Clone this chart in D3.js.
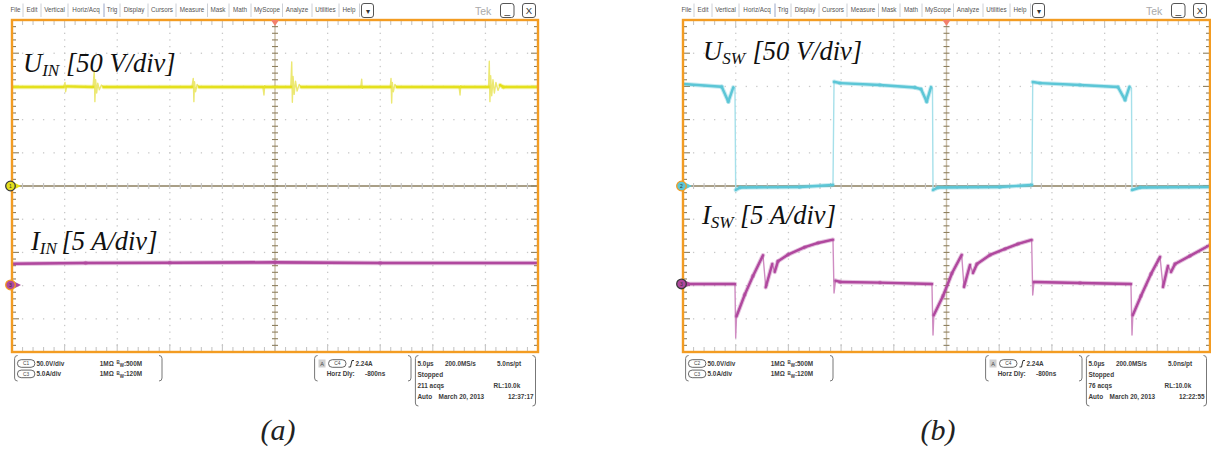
<!DOCTYPE html>
<html><head><meta charset="utf-8">
<script src="https://cdn.jsdelivr.net/npm/d3@7"></script>
<style>
body{margin:0;background:#fff;}
svg{display:block;}
</style></head><body>
<svg id="c" width="1211" height="450"></svg>
<script>
// ---------- data (time in µs, voltage in V, current in A) ----------
const timeDomain = [-25, 25];            // 5 µs/div, 10 div
const voltDomain = [-250, 250];          // 50 V/div, 10 div, ground at centre
const majorT = [-25,-20,-15,-10,-5,0,5,10,15,20,25];
const majorV = [-250,-200,-150,-100,-50,0,50,100,150,200,250];
const ch3OffsetDiv = [-2.98, -2.95];     // current ground marker position (div) for (a), (b)

const uIn = [[-25,149],[-20.1,149],[-19.96,156],[-19.9,142],[-19.8,150],[-17.3,149],[-17.18,174],[-17.12,127],[-17.05,160],[-16.95,140],[-16.85,155],[-16.7,145],[-16.5,152],[-16.3,149],
 [-7.9,149],[-7.77,162],[-7.71,127],[-7.65,157],[-7.55,142],[-7.4,153],[-7.2,149],[-1.15,149],[-1.05,137],[-0.98,151],[-0.9,149],
 [1.5,149],[1.59,187],[1.65,126],[1.72,165],[1.82,138],[1.95,158],[2.1,143],[2.3,153],[2.5,149],[8.15,149],[8.24,161],[8.3,147],[8.4,149],
 [10.95,149],[11.03,162],[11.09,125],[11.15,156],[11.25,142],[11.4,153],[11.6,149],[17.5,149],[17.59,137],[17.66,151],[17.75,149],
 [20.3,149],[20.37,188],[20.43,127],[20.5,166],[20.6,136],[20.72,160],[20.85,140],[21.0,156],[21.2,144],[21.4,152],[21.7,149],[25,149]];
const iIn = [[-25,3.2],[-18,3.3],[-10,3.35],[0,3.4],[10,3.3],[25,3.3]];

const uSw = [[-25,153.6],[-21.33,149.5],[-20.7,127],[-20.23,148.6],[-20.07,147.6],[-20.0,-6],[-19.59,-2.3],[-13.9,-1.5],[-10.77,1.5],
 [-10.67,157],[-10.1,155],[-6.31,152],[-2.99,148.3],[-2.42,146],[-1.88,127],[-1.47,149],[-1.33,147.6],[-1.28,-6],[-0.81,-2.3],[5.07,-1.5],[8.11,1.5],
 [8.18,156.6],[8.87,155],[12.67,152],[16.27,149],[16.94,129.5],[17.36,149.5],[17.55,147.6],[17.6,-6],[18.36,-2.3],[25,-1.5]];
const iSw = [[-25,0],[-20.07,0],[-20.0,-8.1],[-19.92,-4.86],[-19.14,-1.61],[-18.36,1.2],[-17.41,4.32],[-17.15,-0.5],[-16.53,3.01],[-16.3,1.81],[-15.99,3.42],
 [-15.04,4.41],[-13.45,5.53],[-12.19,6.17],[-10.77,6.67],[-10.67,-1.36],[-10.53,0.5],[-10.1,0.3],[-6.31,0.2],[-1.38,0],
 [-1.28,-7.68],[-1.2,-4.67],[-0.33,-1.81],[0.52,1.61],[1.44,4.37],[1.66,-0.45],[2.23,2.86],[2.51,1.66],[2.89,3.01],[4.13,4.37],[5.55,5.27],[6.78,6.02],[8.08,6.63],
 [8.18,-1.66],[8.3,0.3],[12.67,0.15],[17.5,0],
 [17.6,-7.68],[17.68,-4.67],[18.45,-1.81],[19.4,1.51],[20.26,4.07],[20.54,-0.45],[21.01,2.71],[21.3,1.81],[21.68,3.01],[23.1,4.22],[25,5.87]];

const menuItems = ["File","Edit","Vertical","Horiz/Acq","Trig","Display","Cursors","Measure","Mask","Math","MyScope","Analyze","Utilities","Help"];
const chanRowsA = [["C1","50.0V/div","500M"],["C3","5.0A/div","120M"]];
const chanRowsB = [["C2","50.0V/div","500M"],["C3","5.0A/div","120M"]];
const acqsText = ["211 acqs","76 acqs"];
const clockText = ["12:37:17","12:22:55"];
const captions = ["(a)","(b)"];

// ---------- drawing ----------
const svg = d3.select("#c");
const SANS = "'Liberation Sans', Arial, sans-serif";
const SERIF = "'Liberation Serif','Times New Roman',serif";
const BROWN = "#8d7f5f", LGRAY = "#c6c6c6";

function drawPanel(idx, x0, x1, y0, y1, traces, labels, chanRows, capX) {
  const g = svg.append("g");
  const x = d3.scaleLinear().domain(timeDomain).range([x0, x1]);
  const yv = d3.scaleLinear().domain(voltDomain).range([y1, y0]);
  const cOff = -ch3OffsetDiv[idx] * 5;
  const yi = d3.scaleLinear().domain([cOff - 25, cOff + 25]).range([y1, y0]);
  const minorT = d3.range(-25, 25.001, 1), minorV = d3.range(-250, 250.001, 10);
  const xc = x(0), yc = yv(0);

  // dotted grid
  const dots = [];
  majorT.filter(t => t !== 0 && Math.abs(t) !== 25).forEach(t => minorV.forEach(v => dots.push([x(t), yv(v)])));
  majorV.filter(v => v !== 0 && Math.abs(v) !== 250).forEach(v => minorT.forEach(t => dots.push([x(t), yv(v)])));
  g.selectAll(null).data(dots).join("rect").attr("x", d => d[0] - 0.6).attr("y", d => d[1] - 0.6)
    .attr("width", 1.3).attr("height", 1.3).attr("fill", "#c8c8c8");
  // centre lines
  g.append("line").attr("x1", x0).attr("x2", x1).attr("y1", yc).attr("y2", yc).attr("stroke", BROWN).attr("stroke-width", 1.4);
  g.append("line").attr("x1", xc).attr("x2", xc).attr("y1", y0).attr("y2", y1).attr("stroke", "#cbbfa8").attr("stroke-width", 1.4);
  // ticks
  minorT.forEach(t => {
    const maj = t % 5 === 0;
    g.append("line").attr("x1", x(t)).attr("x2", x(t)).attr("y1", yc - 3).attr("y2", yc + 3).attr("stroke", LGRAY).attr("stroke-width", 1.1);
    g.append("line").attr("x1", x(t)).attr("x2", x(t)).attr("y1", y0).attr("y2", y0 + (maj ? 8 : 5)).attr("stroke", LGRAY).attr("stroke-width", 1.1);
    g.append("line").attr("x1", x(t)).attr("x2", x(t)).attr("y1", y1).attr("y2", y1 - (maj ? 8 : 5)).attr("stroke", LGRAY).attr("stroke-width", 1.1);
  });
  minorV.forEach(v => {
    const maj = v % 50 === 0;
    g.append("line").attr("x1", xc - 3).attr("x2", xc + 3).attr("y1", yv(v)).attr("y2", yv(v)).attr("stroke", BROWN).attr("stroke-width", 1.1);
    g.append("line").attr("x1", x0).attr("x2", x0 + (maj ? 7 : 4)).attr("y1", yv(v)).attr("y2", yv(v)).attr("stroke", BROWN).attr("stroke-width", 1.1);
    g.append("line").attr("x1", x1).attr("x2", x1 - (maj ? 7 : 4)).attr("y1", yv(v)).attr("y2", yv(v)).attr("stroke", BROWN).attr("stroke-width", 1.1);
  });

  // traces
  const clipId = "clip" + idx;
  svg.append("clipPath").attr("id", clipId).append("rect").attr("x", x0).attr("y", y0).attr("width", x1 - x0).attr("height", y1 - y0);
  const tg = g.append("g").attr("clip-path", `url(#${clipId})`);
  traces.forEach(tr => {
    const ys = tr.kind === "V" ? yv : yi;
    tg.append("path").datum(tr.data)
      .attr("d", d3.line().x(d => x(d[0])).y(d => ys(d[1])))
      .attr("fill", "none").attr("stroke", tr.light).attr("stroke-width", 1.4).attr("stroke-linejoin", "round");
    const segs = d3.pairs(tr.data).filter(([a, b]) => b[0] - a[0] > 0.3);
    // soft noise halo
    tg.selectAll(null).data(segs).join("line")
      .attr("x1", d => x(d[0][0])).attr("y1", d => ys(d[0][1]))
      .attr("x2", d => x(d[1][0])).attr("y2", d => ys(d[1][1]))
      .attr("stroke", tr.color).attr("stroke-opacity", 0.35).attr("stroke-width", tr.w + 2).attr("stroke-linecap", "round");
    tg.selectAll(null).data(segs).join("line")
      .attr("x1", d => x(d[0][0])).attr("y1", d => ys(d[0][1]))
      .attr("x2", d => x(d[1][0])).attr("y2", d => ys(d[1][1]))
      .attr("stroke", tr.color).attr("stroke-width", tr.w).attr("stroke-linecap", "round");
  });

  // frame
  g.append("rect").attr("x", x0).attr("y", y0).attr("width", x1 - x0).attr("height", y1 - y0)
    .attr("fill", "none").attr("stroke", "#f39c22").attr("stroke-width", 2.4);
  // trigger position marker
  g.append("path").attr("d", `M${xc - 4},${y0}L${xc + 4},${y0}L${xc},${y0 + 6}Z`).attr("fill", "#f3806c");

  // channel ground markers
  traces.forEach(tr => {
    const yy = tr.kind === "V" ? yv(0) : yi(0);
    g.append("path").attr("d", `M${x0 + 3},${yy - 3}L${x0 + 9},${yy}L${x0 + 3},${yy + 3}Z`).attr("fill", tr.color);
    g.append("circle").attr("cx", x0 - 1.5).attr("cy", yy).attr("r", 4.8).attr("fill", tr.color)
      .attr("stroke", tr.ring).attr("stroke-width", 1.3);
    g.append("text").attr("x", x0 - 1.5).attr("y", yy + 1.8).attr("text-anchor", "middle").attr("font-family", SANS)
      .attr("font-size", 5).attr("fill", "#333").text(tr.num);
  });

  // labels
  labels.forEach(l => {
    const t = g.append("text").attr("x", l.x).attr("y", l.y).attr("font-family", SERIF).attr("font-style", "italic")
      .attr("font-size", 26.5).attr("fill", "#111");
    t.append("tspan").text(l.main);
    t.append("tspan").attr("font-size", 17).attr("dy", 4).text(l.sub);
    t.append("tspan").attr("x", l.bx).attr("dy", -4).text(l.rest);
  });

  // menu bar
  const sepRel = [11, 29, 56, 92, 108, 136, 164, 195.5, 217, 239, 270.5, 300, 327, 347.5];
  const itemRel = [3.5, 20, 42.5, 74, 100, 122, 150, 180, 206, 228, 255, 285, 313.5, 337];
  sepRel.forEach((s, i) => g.append("line").attr("x1", x0 + s).attr("x2", x0 + s).attr("y1", 3.5).attr("y2", 17)
    .attr("stroke", i === 3 ? "#9aa6c8" : "#cdd0d6").attr("stroke-width", 1));
  menuItems.forEach((m, i) => g.append("text").attr("x", x0 + itemRel[i]).attr("y", 12.3).attr("text-anchor", "middle")
    .attr("font-family", SANS).attr("font-size", 6.3).attr("fill", "#555").text(m));
  const btn = (bx, w, glyph, gs) => {
    g.append("rect").attr("x", bx).attr("y", 3.5).attr("width", w).attr("height", 14).attr("rx", 2.5)
      .attr("fill", "#fff").attr("stroke", "#555").attr("stroke-width", 1);
    g.append("text").attr("x", bx + w / 2).attr("y", 14.3).attr("text-anchor", "middle").attr("font-family", SANS)
      .attr("font-size", gs).attr("fill", "#333").text(glyph);
  };
  btn(x0 + 349.5, 12, "▾", 8);
  g.append("text").attr("x", x0 + 463).attr("y", 14.5).attr("font-family", SANS).attr("font-size", 10.5).attr("fill", "#aaa").text("Tek");
  btn(x0 + 488.5, 13.5, "_", 10);
  btn(x0 + 510.5, 13, "X", 9.5);

  // info boxes
  const bracket = (bx, ya, yb, dir) => g.append("path")
    .attr("d", `M${bx + 3 * dir},${ya}Q${bx},${ya} ${bx},${ya + 3}L${bx},${yb - 3}Q${bx},${yb} ${bx + 3 * dir},${yb}`)
    .attr("fill", "none").attr("stroke", "#777").attr("stroke-width", 1);
  const txt = (tx, ty, s, anchor) => g.append("text").attr("x", tx).attr("y", ty).attr("font-family", SANS)
    .attr("font-size", 6.4).attr("font-weight", "bold").attr("fill", "#3c3c3c").attr("text-anchor", anchor || "start").text(s);
  const pill = (px, py, s) => {
    g.append("rect").attr("x", px).attr("y", py - 3.8).attr("width", 17.5).attr("height", 7.6).attr("rx", 3.8)
      .attr("fill", "#fff").attr("stroke", "#555").attr("stroke-width", 0.9);
    g.append("text").attr("x", px + 8.75).attr("y", py + 1.8).attr("text-anchor", "middle").attr("font-family", SANS)
      .attr("font-size", 4.8).attr("fill", "#444").text(s);
  };
  bracket(x0 + 2.6, 355.5, 381, 1); bracket(x0 + 150, 355.5, 381, -1);
  chanRows.forEach((r, i) => {
    const ry = 363.5 + i * 10.4;
    pill(x0 + 5.4, ry, r[0]);
    txt(x0 + 24.5, ry + 2.3, r[1]);
    txt(x0 + 87.8, ry + 2.3, "1MΩ");
    const bt = g.append("text").attr("x", x0 + 104.4).attr("y", ry + 2.3).attr("font-family", SANS)
      .attr("font-size", 6.4).attr("font-weight", "bold").attr("fill", "#3c3c3c");
    bt.append("tspan").attr("font-size", 4.5).attr("dy", -1.5).text("B");
    bt.append("tspan").attr("font-size", 4.5).attr("dy", 3).text("W");
    bt.append("tspan").attr("dy", -1.5).text(":" + r[2]);
  });
  bracket(x0 + 302.6, 355.5, 381, 1); bracket(x0 + 399, 355.5, 381, -1);
  g.append("rect").attr("x", x0 + 306.5).attr("y", 359.5).attr("width", 7).attr("height", 8).attr("fill", "#cfcfcf");
  g.append("text").attr("x", x0 + 310).attr("y", 366).attr("text-anchor", "middle").attr("font-family", SANS)
    .attr("font-size", 5.5).attr("fill", "#444").text("A");
  pill(x0 + 316.5, 363.5, "C4");
  g.append("path").attr("d", `M${x0 + 336.5},${367}L${x0 + 338.5},${367}L${x0 + 340},${360.5}L${x0 + 342},${360.5}`)
    .attr("fill", "none").attr("stroke", "#333").attr("stroke-width", 1);
  txt(x0 + 343.5, 365.8, "2.24A");
  txt(x0 + 314.7, 376.3, "Horz Dly:");
  txt(x0 + 353, 376.3, "-800ns");
  bracket(x0 + 403.4, 355.5, 406, 1); bracket(x0 + 523.5, 355.5, 406, -1);
  txt(x0 + 405.5, 365.8, "5.0µs"); txt(x0 + 433, 365.8, "200.0MS/s"); txt(x0 + 485, 365.8, "5.0ns/pt");
  txt(x0 + 405.5, 377, "Stopped");
  txt(x0 + 405.5, 388, acqsText[idx]); txt(x0 + 481.6, 388, "RL:10.0k");
  txt(x0 + 405.5, 399.3, "Auto"); txt(x0 + 426.6, 399.3, "March 20, 2013"); txt(x0 + 521.5, 399.3, clockText[idx], "end");

  // caption
  g.append("text").attr("x", capX).attr("y", 440).attr("text-anchor", "middle").attr("font-family", SERIF)
    .attr("font-style", "italic").attr("font-size", 30).attr("fill", "#222").text(captions[idx]);
}

drawPanel(0, 12, 538, 20, 352,
  [{kind: "V", data: uIn, color: "#e4e01c", light: "#ece872", w: 2.4, ring: "#3a3a3a", num: "1"},
   {kind: "I", data: iIn, color: "#b0489e", light: "#c678b6", w: 2.6, ring: "#f39c22", num: "3"}],
  [{x: 23, y: 72, main: "U", sub: "IN", bx: 66, rest: "[50 V/div]"},
   {x: 31, y: 250, main: "I", sub: "IN", bx: 61.5, rest: "[5 A/div]"}],
  chanRowsA, 278);

drawPanel(1, 683, 1210, 20, 352,
  [{kind: "V", data: uSw, color: "#5cc6d6", light: "#a6e0ea", w: 2.4, ring: "#f39c22", num: "2"},
   {kind: "I", data: iSw, color: "#b0489e", light: "#cf8cc2", w: 2.4, ring: "#3a3a3a", num: "3"}],
  [{x: 703, y: 59.5, main: "U", sub: "SW", bx: 752.5, rest: "[50 V/div]"},
   {x: 702, y: 224, main: "I", sub: "SW", bx: 740, rest: "[5 A/div]"}],
  chanRowsB, 938);
</script>
</body></html>
